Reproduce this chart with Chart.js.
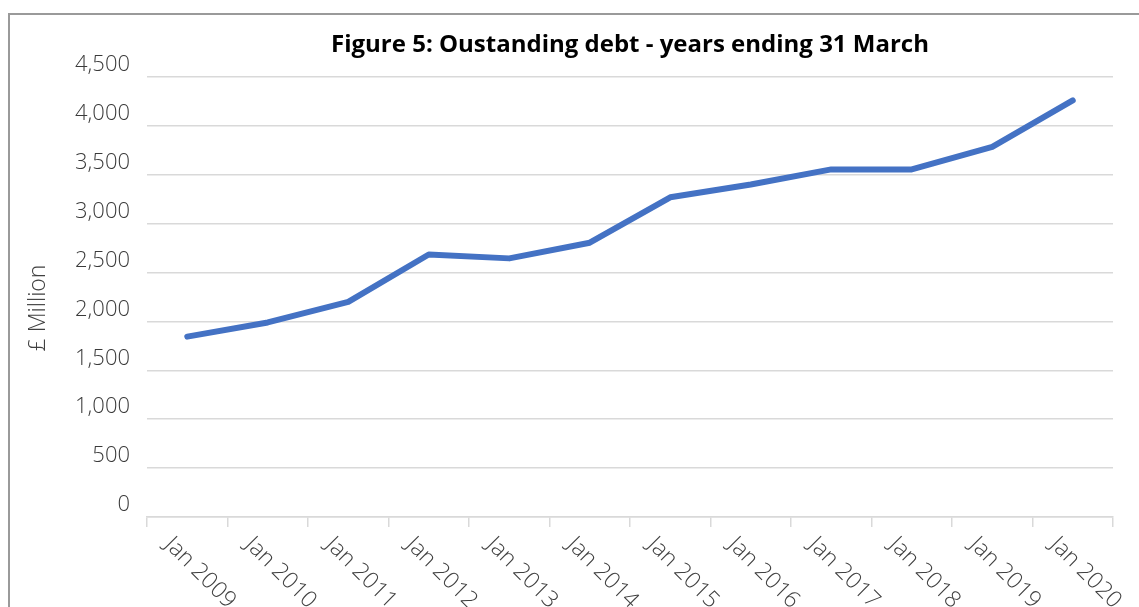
<!DOCTYPE html>
<html>
<head>
<meta charset="utf-8">
<script src="https://cdn.jsdelivr.net/npm/chart.js@4"></script>
<style>
  html, body { margin: 0; padding: 0; background: #fff; overflow: hidden; }
  .frame {
    position: absolute; left: 8px; top: 13px; width: 1300px; height: 800px;
    border: 2px solid #9a9a9a;
  }
  #myCanvas { position: absolute; left: 0; top: 0; }
</style>
</head>
<body>
<div class="frame"></div>
<canvas id="myCanvas" width="1139" height="607"></canvas>
<script>
const years = ["Jan 2009", "Jan 2010", "Jan 2011", "Jan 2012", "Jan 2013", "Jan 2014",
  "Jan 2015", "Jan 2016", "Jan 2017", "Jan 2018", "Jan 2019", "Jan 2020"];
const debt = [1845, 1990, 2200, 2685, 2645, 2805, 3270, 3400, 3555, 3555, 3785, 4260];
const yMin = 0;
const yMax = 4500;
const yStep = 500;
const chartTitle = "Figure 5: Oustanding debt - years ending 31 March";
const yTitle = "£ Million";

const tickFont = "300 23px 'Open Sans', sans-serif";

// x labels in the picture go down to the right, chart.js only rotates the other way
const slantedLabels = {
  id: "slantedLabels",
  afterDraw(chart) {
    const ctx = chart.ctx;
    const xs = chart.scales.x;
    const area = chart.chartArea;
    ctx.save();
    ctx.font = tickFont;
    ctx.fillStyle = "#404040";
    ctx.textAlign = "left";
    ctx.textBaseline = "middle";
    chart.data.labels.forEach((lab, i) => {
      const px = xs.getPixelForValue(i);
      ctx.save();
      ctx.translate(px - 19, xs.top + 24);
      ctx.rotate(Math.PI / 4);
      ctx.fillText(lab, 0, 0);
      ctx.restore();
    });
    // axis title
    ctx.save();
    ctx.translate(38, 308);
    ctx.rotate(-Math.PI / 2);
    ctx.textAlign = "center";
    ctx.font = "300 23px 'Open Sans', sans-serif";
    ctx.fillText(yTitle, 0, 0);
    ctx.restore();
    // chart title, centred over the plot
    ctx.font = "bold 24px 'Open Sans', sans-serif";
    ctx.fillStyle = "#000";
    ctx.textAlign = "center";
    ctx.textBaseline = "alphabetic";
    ctx.fillText(chartTitle, (area.left + area.right) / 2, 52);
    ctx.restore();
  },
};

new Chart(document.getElementById("myCanvas"), {
  type: "line",
  data: {
    labels: years,
    datasets: [
      {
        label: "Outstanding debt",
        data: debt,
        borderColor: "#4472C4",
        borderWidth: 6,
        borderCapStyle: "round",
        borderJoinStyle: "round",
        pointRadius: 0,
        tension: 0,
        fill: false,
      },
    ],
  },
  options: {
    responsive: false,
    animation: false,
    layout: { padding: { left: 0, right: 26, top: 77, bottom: 0 } },
    plugins: {
      legend: { display: false },
      tooltip: { enabled: false },
      title: { display: false },
    },
    scales: {
      x: {
        offset: true,
        ticks: { display: false, autoSkip: false },
        grid: {
          offset: true,
          drawOnChartArea: false,
          drawTicks: true,
          tickLength: 10,
          color: "#d9d9d9",
          lineWidth: 1.5,
        },
        border: { display: true, color: "#d9d9d9", width: 1.5 },
        afterFit: (s) => { s.height = 90; },
      },
      y: {
        min: yMin,
        max: yMax,
        ticks: {
          stepSize: yStep,
          padding: 17,
          labelOffset: -12,
          color: "#3a3a3a",
          font: { family: "'Open Sans', sans-serif", size: 22, weight: 300 },
          callback: (v) => v.toLocaleString("en-GB"),
        },
        grid: { color: "#d9d9d9", lineWidth: 1.5, drawTicks: false },
        border: { display: false },
        afterFit: (s) => { s.width = 147; },
      },
    },
  },
  plugins: [slantedLabels],
});
</script>
</body>
</html>
